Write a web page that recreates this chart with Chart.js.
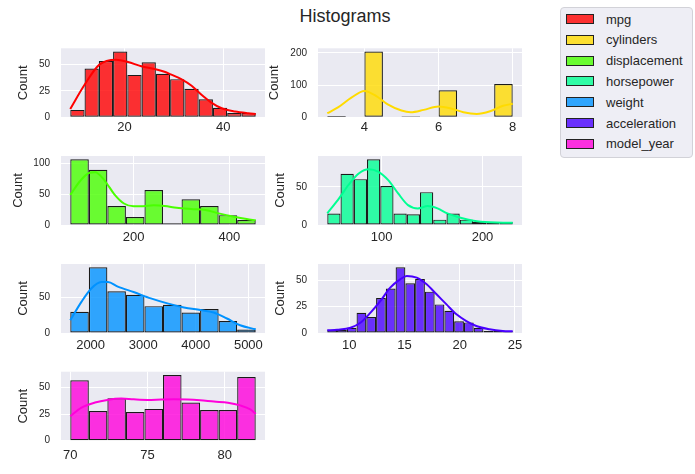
<!DOCTYPE html>
<html><head><meta charset="utf-8">
<script src="https://cdn.jsdelivr.net/npm/chart.js@4"></script>
<style>
html,body{margin:0;padding:0;background:#fff;width:695px;height:474px;overflow:hidden;font-family:"Liberation Sans",Arial,sans-serif;}
canvas.cv{position:absolute;}
#title{position:absolute;left:0;width:690px;top:5px;text-align:center;font-size:18px;line-height:22px;color:#262626;}
#legend{position:absolute;left:560px;top:7px;width:133px;height:151px;background:rgba(234,234,242,0.8);border:1px solid #d2d2d8;border-radius:4px;box-sizing:border-box;}
.item{position:absolute;left:0;height:20px;display:flex;align-items:center;white-space:nowrap;}
.sw{width:26px;height:8px;border:1px solid #222;margin-left:5px;}
.lab{margin-left:12px;font-size:13px;color:#262626;}
</style>
</head><body>
<div id="title">Histograms</div>
<div id="legend"></div>
<script>
// ---- data ----
const seriesNames = ['mpg','cylinders','displacement','horsepower','weight','acceleration','model_year'];
const seriesColors = ['#ff0000','#ffdb00','#49ff00','#00ff92','#0092ff','#4900ff','#ff00db'];

const mpgRange = [9.0, 46.6];
const mpgCounts = [7, 46, 53, 62, 40, 52, 41, 36, 27, 17, 9, 4, 4];
const mpgKdeX = [9.0, 11.9, 14.9, 18.3, 20.7, 23.4, 26.1, 28.1, 29.5, 31.5, 33.6, 35.6, 37.6, 39.7, 42.4, 45.1, 46.6];
const mpgKdeY = [7.9, 30.7, 49.7, 54.4, 52.2, 48.1, 45.6, 43.0, 40.2, 36.0, 29.7, 21.2, 13.9, 8.5, 5.4, 3.8, 3.2];
const mpgXTicks = [20, 40];
const mpgYTicks = [0, 25, 50];

const cylRange = [3, 8];
const cylCounts = [4, 0, 204, 0, 3, 0, 84, 0, 0, 103];
const cylKdeX = [3.0, 3.3, 3.65, 4.0, 4.36, 4.63, 5.0, 5.25, 5.6, 6.0, 6.31, 6.67, 7.03, 7.39, 7.74, 8.0];
const cylKdeY = [12.6, 31.6, 61, 82, 63, 40, 21, 15.8, 23, 33.7, 28.4, 15.8, 10.5, 19, 35.8, 42];
const cylXTicks = [4, 6, 8];
const cylYTicks = [0, 100, 200];

const dispRange = [68, 455];
const dispCounts = [107, 90, 31, 13, 57, 3, 42, 31, 16, 8];
const dispKdeX = [68, 89, 108, 120, 140, 160, 180, 200, 220, 242, 265, 290, 320, 350, 380, 410, 436, 455];
const dispKdeY = [49, 72, 85, 86, 72, 50, 35, 30.5, 30.5, 32, 31, 28, 26, 24.5, 18.5, 13.5, 9.8, 7.6];
const dispXTicks = [200, 400];
const dispYTicks = [0, 50, 100];

const hpRange = [46, 230];
const hpCounts = [15, 67, 60, 86, 51, 15, 14, 43, 7, 15, 7, 4, 4, 4];
const hpKdeX = [46, 57.7, 67.4, 77.2, 87, 96.8, 106.5, 116.3, 126.1, 135.9, 145.6, 155.4, 165.2, 178.2, 191.2, 207.5, 220.6, 230];
const hpKdeY = [15.2, 34.8, 53, 67.4, 73, 69.6, 58.7, 41.3, 26, 21.7, 24.8, 21.7, 15.2, 9.6, 5.7, 3.5, 3, 3];
const hpXTicks = [100, 200];
const hpYTicks = [0, 50];

const weightRange = [1613, 5140];
const weightCounts = [30, 93, 59, 54, 38, 40, 29, 34, 17, 5];
const weightKdeX = [1613, 1825, 2013, 2202, 2328, 2517, 2830, 3145, 3460, 3774, 4089, 4340, 4592, 4843, 5140];
const weightKdeY = [18, 44, 63, 72, 72, 65.7, 57.6, 49, 41.9, 36.2, 32.4, 29, 20.5, 11, 5.2];
const weightXTicks = [2000, 3000, 4000, 5000];
const weightYTicks = [0, 50];

const accRange = [8.0, 24.8];
const accCounts = [3, 3, 5, 19, 15, 33, 42, 62, 47, 51, 39, 27, 21, 11, 10, 5, 2, 2, 2];
const accKdeX = [8.0, 8.9, 10.1, 11.0, 11.9, 12.8, 13.7, 14.6, 15.2, 16.1, 17.0, 17.9, 18.8, 19.7, 20.6, 21.5, 22.7, 23.9, 24.8];
const accKdeY = [2.5, 3.1, 5, 9.7, 19, 30, 42.8, 50.6, 53.8, 52.2, 45.9, 36.5, 27, 17.6, 11.3, 6.6, 3.5, 1.9, 1.6];
const accXTicks = [10, 15, 20, 25];
const accYTicks = [0, 25, 50];

const yearRange = [70, 82];
const yearCounts = [57, 28, 40, 27, 30, 62, 36, 29, 29, 60];
const yearKdeX = [70, 70.7, 71.6, 72.4, 73.3, 74.1, 75, 75.9, 76.7, 77.6, 78.4, 79.3, 80.2, 81, 81.65, 82];
const yearKdeY = [23, 31, 36, 38.5, 39.7, 39, 38.5, 38.8, 39, 38.8, 38.1, 36.9, 35.9, 33.3, 29.5, 25.3];
const yearXTicks = [70, 75, 80];
const yearYTicks = [0, 25, 50];

const yTitle = 'Count';

// ---- layout (page pixels) ----
const boxes = [
  {x0:61,  x1:265, y1:117.3, cx:24,   gap:10.5},
  {x0:318, x1:522, y1:117.3, cx:275,  gap:10.5},
  {x0:61,  x1:265, y1:225,   cx:18.3, gap:12},
  {x0:318, x1:522, y1:225,   cx:281,  gap:12},
  {x0:61,  x1:265, y1:333,   cx:24,   gap:12},
  {x0:318, x1:522, y1:333,   cx:281,  gap:12},
  {x0:61,  x1:265, y1:440.7, cx:24,   gap:15}
];
const PLOT_H = 69;

const series = [
  [mpgRange, mpgCounts, mpgKdeX, mpgKdeY, mpgXTicks, mpgYTicks],
  [cylRange, cylCounts, cylKdeX, cylKdeY, cylXTicks, cylYTicks],
  [dispRange, dispCounts, dispKdeX, dispKdeY, dispXTicks, dispYTicks],
  [hpRange, hpCounts, hpKdeX, hpKdeY, hpXTicks, hpYTicks],
  [weightRange, weightCounts, weightKdeX, weightKdeY, weightXTicks, weightYTicks],
  [accRange, accCounts, accKdeX, accKdeY, accXTicks, accYTicks],
  [yearRange, yearCounts, yearKdeX, yearKdeY, yearXTicks, yearYTicks]
];

function rgba(hex, a){
  const n = parseInt(hex.slice(1), 16);
  return `rgba(${(n>>16)&255},${(n>>8)&255},${n&255},${a})`;
}
const FILL_ALPHA = 0.8;
const X_FONT = 13;

Chart.defaults.font.family = '"Liberation Sans", Arial, sans-serif';
Chart.defaults.color = '#262626';

const bgPlugin = {
  id: 'bg',
  beforeDraw(chart){
    const {ctx, chartArea: a} = chart;
    ctx.save();
    ctx.fillStyle = '#eaeaf2';
    ctx.fillRect(a.left, a.top, a.right - a.left, a.bottom - a.top);
    ctx.restore();
  }
};

series.forEach((s, i) => {
  const [range, counts, kx, ky, xt, yt] = s;
  const b = boxes[i];
  const y0 = b.y1 - PLOT_H;
  const cl = Math.round(b.cx - 7.8);
  const ct = Math.floor(y0) - 8;
  const cw = Math.ceil(b.x1) + 14 - cl;
  const ch = Math.ceil(b.y1) + 28 - ct;
  const cv = document.createElement('canvas');
  cv.className = 'cv';
  cv.width = cw; cv.height = ch;
  cv.style.left = cl + 'px'; cv.style.top = ct + 'px';
  cv.style.width = cw + 'px'; cv.style.height = ch + 'px';
  document.body.appendChild(cv);

  const w = (range[1] - range[0]) / counts.length;
  const bins = counts.map((c, k) => ({x: range[0] + (k + 0.5) * w, y: c}));
  const kde = kx.map((x, k) => ({x, y: ky[k]}));
  const span = range[1] - range[0];
  const ymax = Math.max(...counts) * 1.05;
  const color = seriesColors[i];

  new Chart(cv, {
    type: 'bar',
    data: {
      datasets: [
        {type: 'line', data: kde, borderColor: color, borderWidth: 2, pointRadius: 0,
         cubicInterpolationMode: 'monotone', fill: false},
        {type: 'bar', data: bins, backgroundColor: rgba(color, FILL_ALPHA), borderColor: '#1a1a1a',
         borderWidth: 1.2, borderSkipped: false, barPercentage: 1, categoryPercentage: 1, inflateAmount: 0}
      ]
    },
    options: {
      responsive: false, animation: false, devicePixelRatio: 1,
      layout: {autoPadding: false, padding: {left: 0, top: y0 - ct, right: cl + cw - b.x1, bottom: 0}},
      plugins: {legend: {display: false}, tooltip: {enabled: false}},
      scales: {
        x: {
          type: 'linear', offset: false,
          min: range[0] - 0.05 * span, max: range[1] + 0.05 * span,
          afterBuildTicks: sc => { sc.ticks = xt.map(v => ({value: v})); },
          ticks: {padding: b.gap - X_FONT * 0.6, maxRotation: 0, autoSkip: false,
                  font: {size: X_FONT}, color: '#262626', callback: v => String(v)},
          grid: {color: '#ffffff', lineWidth: 1, drawTicks: false, offset: false},
          border: {display: false},
          afterFit: sc => { sc.height = ct + ch - b.y1; sc.paddingLeft = 0; sc.paddingRight = 0; }
        },
        y: {
          type: 'linear', min: 0, max: ymax,
          afterBuildTicks: sc => { sc.ticks = yt.map(v => ({value: v})); },
          ticks: {padding: 11, autoSkip: false, font: {size: 10}, color: '#262626', callback: v => String(v)},
          grid: {color: '#ffffff', lineWidth: 1, drawTicks: false},
          border: {display: false},
          title: {display: true, text: yTitle, font: {size: 13}, color: '#262626', padding: 0},
          afterFit: sc => { sc.width = b.x0 - cl; sc.paddingTop = 0; sc.paddingBottom = 0; }
        }
      }
    },
    plugins: [bgPlugin]
  });
});

// legend
const lg = document.getElementById('legend');
seriesNames.forEach((n, i) => {
  const it = document.createElement('div');
  it.className = 'item';
  it.style.top = (1 + 20.8 * i) + 'px';
  const sw = document.createElement('div');
  sw.className = 'sw';
  sw.style.background = rgba(seriesColors[i], FILL_ALPHA);
  const lb = document.createElement('span');
  lb.className = 'lab';
  lb.textContent = n;
  it.appendChild(sw); it.appendChild(lb);
  lg.appendChild(it);
});
</script>
</body></html>
